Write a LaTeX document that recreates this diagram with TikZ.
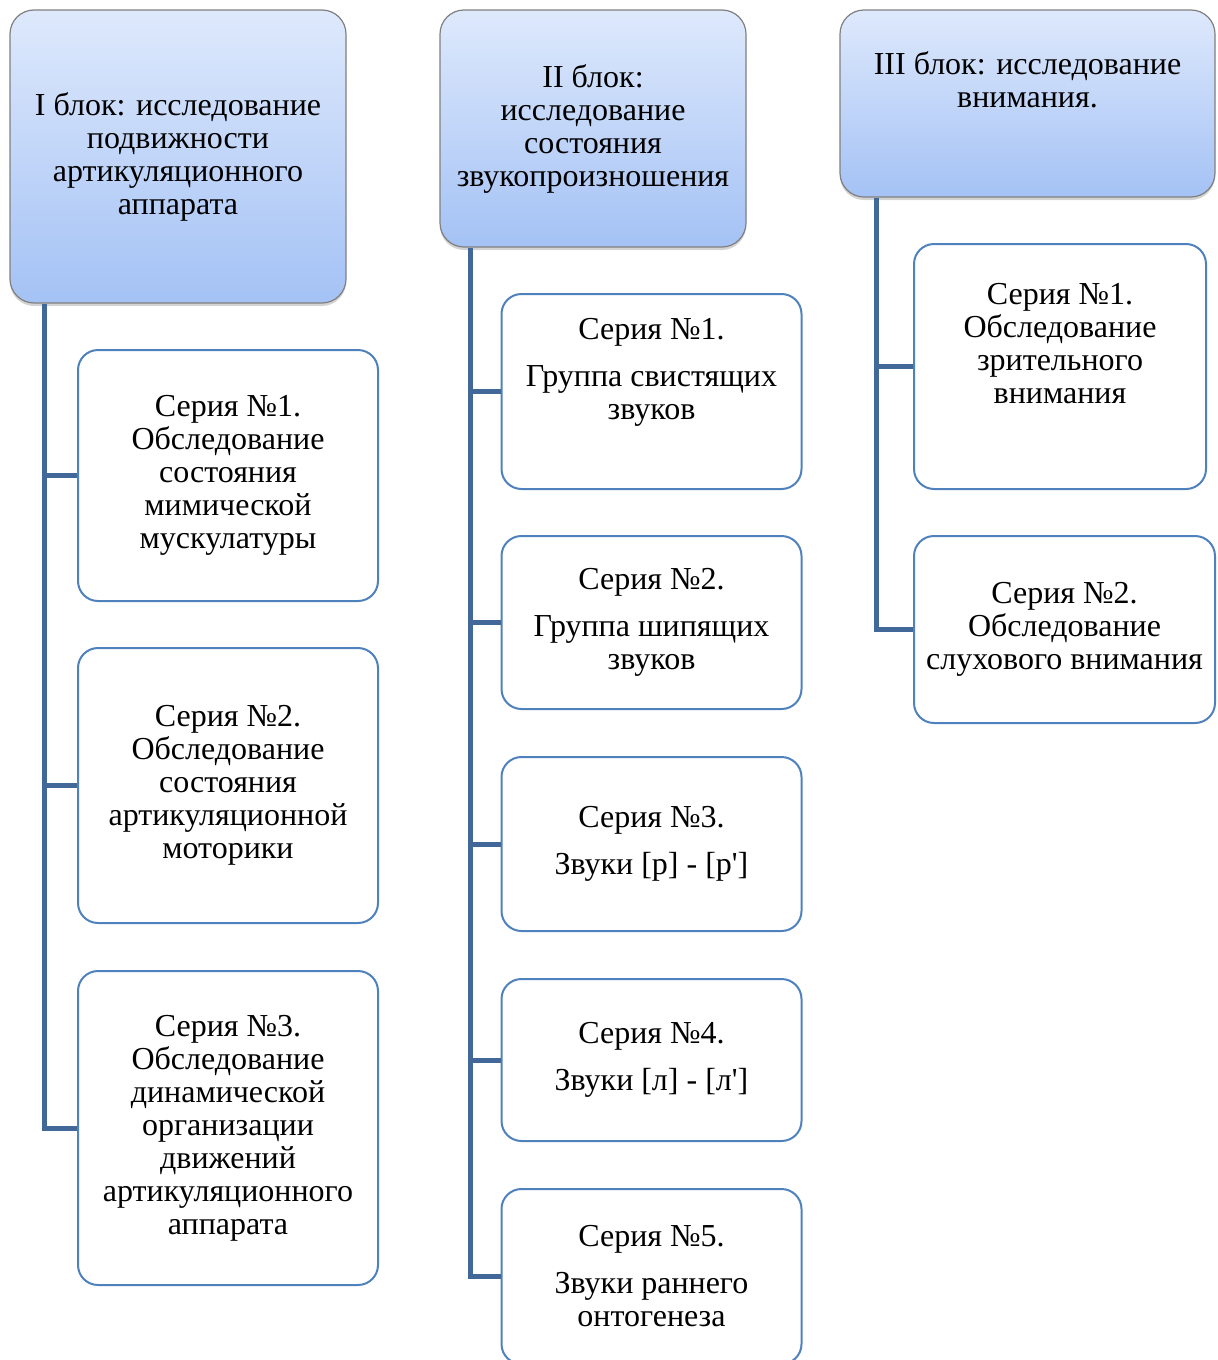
\documentclass[tikz,border=0pt]{standalone}
\usepackage{fontspec}
\setmainfont{Liberation Serif}
\usepackage{tikz}
\usetikzlibrary{shadows}
\definecolor{linkblue}{RGB}{66,104,154}
\definecolor{boxblue}{RGB}{79,129,189}
\definecolor{headtop}{RGB}{222,233,252}
\definecolor{headbot}{RGB}{164,194,245}
\tikzstyle{head} = [rectangle, rounded corners=12pt, draw=black!50, line width=0.6pt, top color=headtop, bottom color=headbot, drop shadow={shadow xshift=0pt, shadow yshift=-1.5pt, opacity=0.35}, align=center, font=\fontsize{16}{16.5}\selectfont]
\tikzstyle{serbox} = [rectangle, rounded corners=10pt, draw=boxblue, line width=1pt, fill=white, minimum width=150pt, align=center, font=\fontsize{16}{16.5}\selectfont]
\tikzstyle{txt} = [align=center, inner sep=0pt, font=\fontsize{16}{16.5}\selectfont]
\tikzstyle{conn} = [draw=linkblue, line width=2.5pt]
\begin{document}
\begin{tikzpicture}[x=0.5pt, y=-0.5pt]
\useasboundingbox (0,0) rectangle (1218,1360);

% headers
\node (h1) [head, minimum width=168pt, minimum height=146.5pt] at (178,156.5) {I блок: исследование\\подвижности\\артикуляционного\\аппарата};
\node (h2) [head, minimum width=153pt, minimum height=118.5pt] at (593,128.5) {II блок:\\исследование\\состояния\\звукопроизношения};
\node (h3) [head, minimum width=187.5pt, minimum height=93.5pt, label={[txt, yshift=11.75pt]center:{III блок: исследование\\внимания.}}] at (1027.5,103.5) {};

% column I
\node (b11) [serbox, minimum height=125.5pt] at (228,475.5) {Серия №1.\\Обследование\\состояния\\мимической\\мускулатуры};
\node (b12) [serbox, minimum height=137.5pt] at (228,785.5) {Серия №2.\\Обследование\\состояния\\артикуляционной\\моторики};
\node (b13) [serbox, minimum height=157pt] at (228,1128) {Серия №3.\\Обследование\\динамической\\организации\\движений\\артикуляционного\\аппарата};

% column II
\node (b21) [serbox, minimum height=97.5pt, label={[txt, yshift=9.75pt]center:{Серия №1.\\[7pt]Группа свистящих\\звуков}}] at (651.5,391.5) {};
\node (b22) [serbox, minimum height=86.5pt] at (651.5,622.5) {Серия №2.\\[7pt]Группа шипящих\\звуков};
\node (b23) [serbox, minimum height=87pt] at (651.5,844) {Серия №3.\\[7pt]Звуки [р] - [р\textquotesingle]};
\node (b24) [serbox, minimum height=81pt] at (651.5,1060) {Серия №4.\\[7pt]Звуки [л] - [л\textquotesingle]};
\node (b25) [serbox, minimum height=87.5pt] at (651.5,1276.5) {Серия №5.\\[7pt]Звуки раннего\\онтогенеза};

% column III
\node (b31) [serbox, minimum width=146pt, minimum height=122.5pt, label={[txt, yshift=11.5pt]center:{Серия №1.\\Обследование\\зрительного\\внимания}}] at (1060,366.5) {};
\node (b32) [serbox, minimum width=150.5pt, minimum height=93.5pt] at (1064.5,629.5) {Серия №2.\\Обследование\\слухового внимания};

% connectors
\coordinate (v1) at ([xshift=17.5pt]h1.south west);
\coordinate (v2) at ([xshift=15.5pt]h2.south west);
\coordinate (v3) at ([xshift=18.5pt]h3.south west);
\draw [conn] (v1) |- (b13.west);
\draw [conn] (v2) |- (b25.west);
\draw [conn] (v3) |- (b32.west);
\foreach \b in {b11,b12} \draw [conn] (v1 |- \b.west) -- (\b.west);
\foreach \b in {b21,b22,b23,b24} \draw [conn] (v2 |- \b.west) -- (\b.west);
\draw [conn] (v3 |- b31.west) -- (b31.west);
\end{tikzpicture}
\end{document}
